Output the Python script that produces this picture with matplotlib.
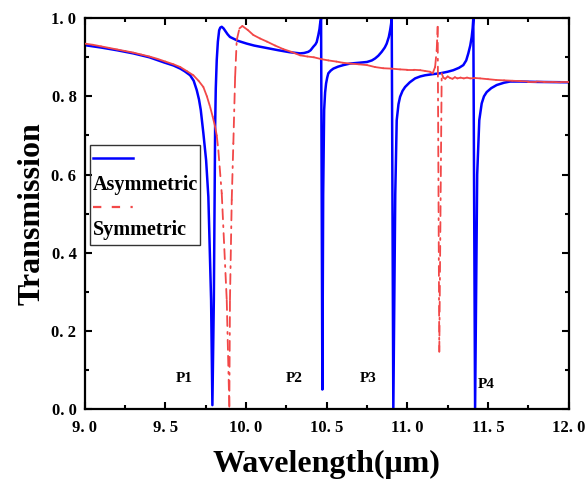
import matplotlib
matplotlib.use("Agg")
import matplotlib.pyplot as plt
from matplotlib.collections import LineCollection
from matplotlib.patches import Rectangle
from matplotlib.ticker import MultipleLocator, FuncFormatter
import numpy as np

# values
blue_wl = [9.0, 9.1, 9.2, 9.3, 9.4, 9.49, 9.55, 9.592, 9.62, 9.653, 9.675, 9.694, 9.708,
           9.719, 9.735, 9.752, 9.766, 9.783, 9.791, 9.80, 9.805, 9.808, 9.812, 9.818,
           9.825, 9.833, 9.84, 9.849, 9.86, 9.87, 9.885, 9.90, 9.95, 10.004, 10.05, 10.087,
           10.15, 10.2, 10.27, 10.335, 10.36, 10.386, 10.40, 10.417, 10.43, 10.438, 10.448,
           10.455, 10.459, 10.465, 10.473, 10.478, 10.484, 10.49, 10.496, 10.503, 10.51,
           10.525, 10.541, 10.57, 10.603, 10.645, 10.70, 10.75, 10.78, 10.80, 10.82, 10.841,
           10.86, 10.872, 10.885, 10.893, 10.899, 10.903, 10.913, 10.925, 10.934, 10.945,
           10.955, 10.97, 10.986, 11.015, 11.048, 11.08, 11.11, 11.16, 11.203, 11.25, 11.285,
           11.32, 11.347, 11.365, 11.378, 11.39, 11.399, 11.405, 11.409, 11.42, 11.433,
           11.446, 11.461, 11.475, 11.492, 11.52, 11.554, 11.6, 11.637, 11.7, 11.8, 12.0]
blue_t = [0.931, 0.925, 0.918, 0.910, 0.900, 0.887, 0.879, 0.871, 0.864, 0.854, 0.840, 0.816, 0.792,
          0.765, 0.706, 0.637, 0.543, 0.279, 0.010, 0.279, 0.550, 0.722, 0.820, 0.893,
          0.940, 0.969, 0.976, 0.978, 0.974, 0.968, 0.959, 0.952, 0.942, 0.935, 0.930, 0.927,
          0.922, 0.918, 0.913, 0.910, 0.911, 0.914, 0.918, 0.927, 0.933, 0.939, 0.957,
          0.972, 0.986, 1.0, 0.050, 0.550, 0.765, 0.810, 0.833, 0.848, 0.859,
          0.866, 0.871, 0.876, 0.880, 0.884, 0.886, 0.888, 0.892, 0.897, 0.904, 0.914,
          0.925, 0.935, 0.952, 0.969, 0.985, 1.0, 0.0, 0.550, 0.739, 0.780,
          0.799, 0.814, 0.824, 0.836, 0.846, 0.851, 0.854, 0.857, 0.859, 0.863, 0.867,
          0.873, 0.880, 0.892, 0.910, 0.930, 0.952, 0.975, 1.0, 0.0, 0.600,
          0.739, 0.782, 0.800, 0.811, 0.821, 0.829, 0.835, 0.838, 0.838, 0.837, 0.836]

red_wl = [9.0, 9.05, 9.1, 9.15, 9.2, 9.25, 9.3, 9.35, 9.4, 9.45, 9.5, 9.55, 9.592,
          9.635, 9.673, 9.705, 9.735, 9.757, 9.777, 9.793, 9.808, 9.818, 9.828, 9.849,
          9.88, 9.896, 9.90, 9.911, 9.921, 9.932, 9.942, 9.959, 9.977, 10.01, 10.045,
          10.087, 10.13, 10.18, 10.23, 10.28, 10.335, 10.38, 10.42, 10.47, 10.51, 10.56,
          10.60, 10.645, 10.70, 10.75, 10.80, 10.85, 10.90, 10.955, 11.0, 11.04, 11.08,
          11.11, 11.141, 11.157, 11.172, 11.182, 11.188, 11.198, 11.213, 11.223, 11.235,
          11.25, 11.265, 11.28, 11.295, 11.31, 11.33, 11.35, 11.37, 11.39, 11.42, 11.451,
          11.5, 11.55, 11.6, 11.65, 11.7, 11.75, 11.8, 11.85, 11.9, 11.95, 12.0]
red_t = [0.935, 0.932, 0.928, 0.924, 0.920, 0.916, 0.912, 0.907, 0.902, 0.896, 0.889, 0.882, 0.875,
         0.864, 0.854, 0.840, 0.824, 0.800, 0.773, 0.748, 0.722, 0.700, 0.662, 0.552,
         0.279, 0.006, 0.279, 0.535, 0.680, 0.850, 0.944, 0.974, 0.980, 0.970, 0.957,
         0.948, 0.940, 0.930, 0.921, 0.914, 0.905, 0.902, 0.900, 0.895, 0.892, 0.889,
         0.886, 0.884, 0.882, 0.880, 0.875, 0.872, 0.871, 0.869, 0.868, 0.868, 0.867,
         0.865, 0.863, 0.859, 0.875, 0.918, 0.978, 0.147, 0.859, 0.848, 0.845,
         0.851, 0.847, 0.845, 0.849, 0.846, 0.848, 0.846, 0.848, 0.846, 0.847, 0.846,
         0.844, 0.842, 0.841, 0.840, 0.839, 0.838, 0.838, 0.837, 0.837, 0.836, 0.836]

peak_names = ["P1", "P2", "P3", "P4"]
peak_x = [9.616, 10.30, 10.757, 11.488]
peak_y = [0.079, 0.079, 0.079, 0.064]

plt.rcParams['font.family'] = ['Liberation Serif', 'DejaVu Serif']
plt.rcParams['font.weight'] = 'bold'
plt.rcParams['lines.scale_dashes'] = False

blue = '#0000FF'
red = '#F24848'
dash = (0, (7.2, 4.3, 7.2, 4.3, 1.4, 4.3))

fig = plt.figure(figsize=(5.85, 4.79), dpi=100)
ax = fig.add_axes([0.145, 0.146, 0.827, 0.816])

ax.plot(blue_wl, blue_t, color=blue, lw=1.8, zorder=2)

# red curve: each segment dashed on its own, so short steps look solid
pts = np.column_stack([red_wl, red_t])
segs = np.stack([pts[:-1], pts[1:]], axis=1)
lc = LineCollection(segs, colors=red, linewidths=1.3, linestyles=[dash], capstyle='round', zorder=3)
ax.add_collection(lc)

for name, x, y in zip(peak_names, peak_x, peak_y):
    ax.text(x, y, name, ha='center', va='center', fontsize=11, fontweight='bold')

# legend box (line above label)
ax.add_patch(Rectangle((0.011, 0.419), 0.227, 0.256, transform=ax.transAxes,
                       fill=False, edgecolor='#333333', lw=1.0, zorder=4))
ax.plot([0.0165, 0.099], [0.642, 0.642], transform=ax.transAxes, color=blue, lw=1.8, zorder=5)
ax.plot([0.0165, 0.099], [0.517, 0.517], transform=ax.transAxes, color=red, lw=1.6,
        linestyle=(0, (6, 7.5, 6, 7.5, 1.6, 7.5)), zorder=5)
ax.text(0.017, 0.573, 'Asymmetric', transform=ax.transAxes, ha='left', va='center',
        fontsize=14.5, fontweight='bold', zorder=5)
ax.text(0.017, 0.458, 'Symmetric', transform=ax.transAxes, ha='left', va='center',
        fontsize=14.5, fontweight='bold', zorder=5)

ax.set_xlim(9.0, 12.0)
ax.set_ylim(0.0, 1.0)
ax.xaxis.set_major_locator(MultipleLocator(0.5))
ax.xaxis.set_minor_locator(MultipleLocator(0.25))
ax.yaxis.set_major_locator(MultipleLocator(0.2))
ax.yaxis.set_minor_locator(MultipleLocator(0.1))
fmt = FuncFormatter(lambda v, p: ('%.1f' % v).replace('.', '. '))
ax.xaxis.set_major_formatter(fmt)
ax.yaxis.set_major_formatter(fmt)
ax.tick_params(which='both', direction='in', top=True, right=True, width=1.5)
ax.tick_params(which='major', length=5, labelsize=12)
ax.tick_params(axis='x', which='major', pad=8)
ax.tick_params(axis='y', which='major', pad=6)
ax.tick_params(which='minor', length=3)
for s in ax.spines.values():
    s.set_linewidth(1.6)

ax.set_xlabel('Wavelength(\u03bcm)', fontsize=23, fontweight='bold')
ax.set_ylabel('Transmission', fontsize=23, fontweight='bold')
ax.xaxis.set_label_coords(0.5, -0.105)
ax.yaxis.set_label_coords(-0.08, 0.5)

fig.savefig('out.png', dpi=100)
